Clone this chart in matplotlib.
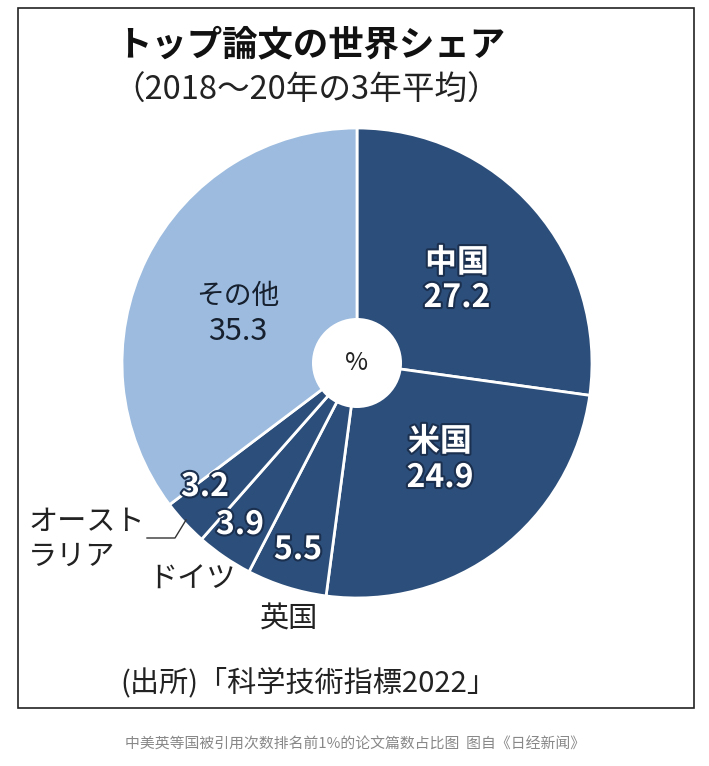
"""
Pie chart: world share of top 1% papers (2018-20 average).
Outputs: out.png
"""
import matplotlib.pyplot as plt
import matplotlib.patheffects as pe
from matplotlib.patches import Circle, Rectangle

plt.rcParams['font.family'] = ['Noto Sans CJK JP', 'DejaVu Sans']

# Shares (%), clockwise from 12 o'clock
countries = ['中国', '米国', '英国', 'ドイツ', 'オーストラリア', 'その他']
shares = [27.2, 24.9, 5.5, 3.9, 3.2, 35.3]

dark = '#2c4e7a'
light = '#9cbbde'
colors = [dark, dark, dark, dark, dark, light]

W, H = 709, 766
fig = plt.figure(figsize=(W / 100, H / 100), dpi=100)
ax = fig.add_axes([0, 0, 1, 1])


def Y(y):
    # convert pixel row (from top) into data y
    return H - y


cx, cy, r = 357, Y(363), 235
ax.pie(shares, colors=colors, startangle=90, counterclock=False,
       center=(cx, cy), radius=r, frame=True,
       wedgeprops=dict(edgecolor='white', linewidth=2))
ax.set_xlim(0, W)
ax.set_ylim(0, H)
ax.set_aspect('equal')
ax.axis('off')
ax.add_patch(Circle((cx, cy), 45, facecolor='white', edgecolor='none', zorder=5))
ax.text(cx, cy, '%', fontsize=18, ha='center', va='center', color='#222222', zorder=6)

# frame
ax.add_patch(Rectangle((18, Y(708)), 676, 700, fill=False,
                       edgecolor='#222222', linewidth=1.2))

# titles
ax.text(116, Y(45), 'トップ論文の世界シェア', fontsize=25.5, fontweight='bold',
        ha='left', va='center', color='#111111')
ax.text(112, Y(91), '（2018～20年の3年平均）', fontsize=23.5,
        ha='left', va='center', color='#222222')

outline = [pe.withStroke(linewidth=3, foreground='#1b2f4e')]
inner = dict(fontsize=23, fontweight='bold', color='white', ha='center',
             va='center', path_effects=outline, zorder=6)

ax.text(457, Y(263), countries[0], **inner)
ax.text(457, Y(298), f'{shares[0]}', **inner)
ax.text(440, Y(442), countries[1], **inner)
ax.text(440, Y(478), f'{shares[1]}', **inner)
ax.text(298, Y(550), f'{shares[2]}', **inner)
ax.text(240, Y(525), f'{shares[3]}', **inner)
ax.text(205, Y(487), f'{shares[4]}', **inner)

ax.text(238, Y(296), countries[5], fontsize=20, ha='center', va='center',
        color='#16202e')
ax.text(238, Y(332), f'{shares[5]}', fontsize=22, ha='center', va='center',
        color='#16202e')

# outside labels
outside = dict(fontsize=21, color='#222222', va='center')
ax.text(289, Y(620), countries[2], ha='center', **outside)
ax.text(192, Y(580), countries[3], ha='center', **outside)
ax.text(28, Y(522), 'オースト', ha='left', **outside)
ax.text(28, Y(557), 'ラリア', ha='left', **outside)
ax.plot([147, 175, 186], [Y(538), Y(538), Y(520)], color='#333333', linewidth=1)

ax.text(120, Y(683), '(出所)「科学技術指標2022」', fontsize=21,
        ha='left', va='center', color='#222222')

ax.text(355, Y(745), '中美英等国被引用次数排名前1%的论文篇数占比图  图自《日经新闻》',
        fontsize=10.7, ha='center', va='center', color='#888888',
        family=['Noto Sans CJK SC', 'DejaVu Sans'])

plt.savefig('out.png', dpi=100)
plt.close()
